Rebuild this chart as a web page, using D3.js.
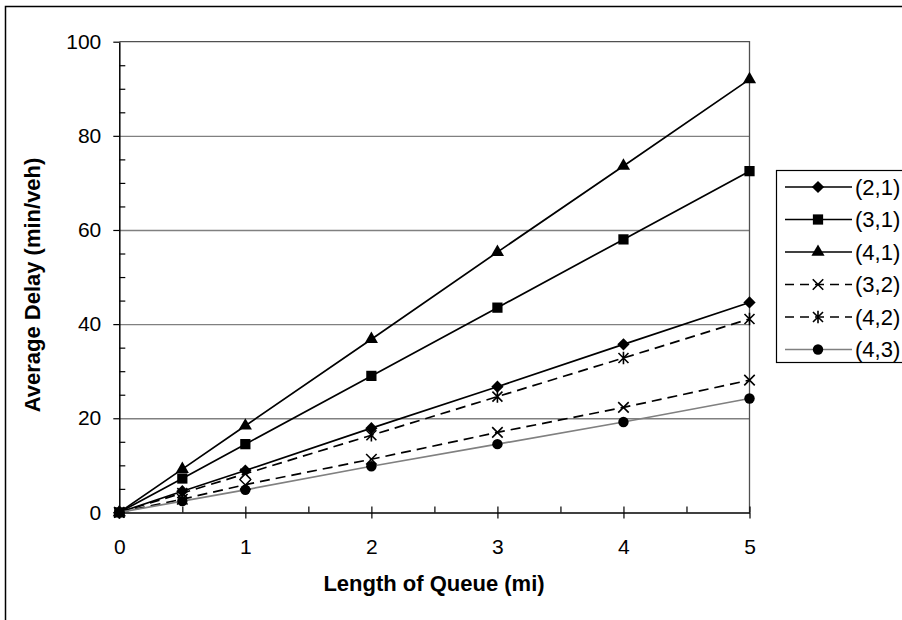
<!DOCTYPE html>
<html>
<head>
<meta charset="utf-8">
<script src="https://cdn.jsdelivr.net/npm/d3@7"></script>
<style>
  html, body { margin: 0; padding: 0; background: #fff; }
  svg { display: block; font-family: "Liberation Sans", Arial, sans-serif; }
</style>
</head>
<body>
<svg id="chart" width="902" height="620"></svg>
<script>
// ---- data ----
const xValues = [0, 0.5, 1, 2, 3, 4, 5];
const seriesNames = ["(2,1)", "(3,1)", "(4,1)", "(3,2)", "(4,2)", "(4,3)"];
const s21 = [0, 4.5, 8.9, 17.9, 26.7, 35.7, 44.6];
const s31 = [0, 7.2, 14.5, 29.0, 43.5, 58.0, 72.5];
const s41 = [0, 9.2, 18.4, 36.8, 55.3, 73.6, 92.0];
const s32 = [0, 2.8, 5.9, 11.3, 17.0, 22.3, 28.1];
const s42 = [0, 4.1, 8.2, 16.4, 24.6, 32.8, 41.1];
const s43 = [0, 2.4, 4.8, 9.8, 14.5, 19.2, 24.2];
// stray open-diamond marker visible near x = 1
const openDiamondX = [1];
const openDiamondY = [7.0];
const yMajorTicks = [0, 20, 40, 60, 80, 100];
const xMajorTicks = [0, 1, 2, 3, 4, 5];
const xTitle = "Length of Queue (mi)";
const yTitle = "Average Delay (min/veh)";

// ---- layout ----
const svg = d3.select("#chart");
const pL = 119.3, pR = 749.5, pT = 41.7, pB = 512.4;
const x = d3.scaleLinear().domain([0, 5]).range([pL, pR]);
const y = d3.scaleLinear().domain([0, 100]).range([pB, pT]);
const FONT = "Liberation Sans, Arial, sans-serif";

// outer chart frame (right/bottom edges lie outside the picture)
svg.append("rect").attr("x", 5.5).attr("y", 6.5).attr("width", 960).attr("height", 700)
  .attr("fill", "none").attr("stroke", "#000").attr("stroke-width", 1.5);

// gridlines
svg.append("g").attr("transform", `translate(${pL},0)`)
  .call(d3.axisLeft(y).tickValues([20, 40, 60, 80]).tickSize(-(pR - pL)).tickFormat(""))
  .call(g => g.select(".domain").remove())
  .selectAll("line").attr("stroke", "#808080").attr("stroke-width", 1.3);

// plot area border (top, right)
svg.append("path")
  .attr("d", `M${pL},${pT}H${pR}V${pB}`)
  .attr("fill", "none").attr("stroke", "#505050").attr("stroke-width", 1.3);

// y axis
const minorY = d3.range(5, 100, 5).filter(v => v % 20 !== 0);
svg.append("g").attr("transform", `translate(${pL},0)`)
  .call(d3.axisRight(y).tickValues(minorY).tickSize(6).tickFormat(""))
  .call(g => g.select(".domain").remove())
  .selectAll("line").attr("stroke", "#000").attr("stroke-width", 1.2);
const yAxis = svg.append("g").attr("transform", `translate(${pL},0)`)
  .call(d3.axisLeft(y).tickValues(yMajorTicks).tickSize(6).tickSizeOuter(0).tickPadding(12)
    .tickFormat(d3.format("d")));
yAxis.select(".domain").attr("stroke", "#000").attr("stroke-width", 1.5);
yAxis.selectAll("line").attr("stroke", "#000").attr("stroke-width", 1.2);
yAxis.selectAll("text").attr("font-size", 21).attr("fill", "#000").attr("font-family", FONT);

// x axis
const minorX = [0.5, 1.5, 2.5, 3.5, 4.5];
svg.append("g").attr("transform", `translate(0,${pB})`)
  .call(d3.axisTop(x).tickValues(minorX.concat(xMajorTicks)).tickSize(6).tickFormat(""))
  .call(g => g.select(".domain").remove())
  .selectAll("line").attr("stroke", "#000").attr("stroke-width", 1.2);
const xAxis = svg.append("g").attr("transform", `translate(0,${pB})`)
  .call(d3.axisBottom(x).tickValues(xMajorTicks).tickSize(6).tickSizeOuter(0).tickPadding(21)
    .tickFormat(d3.format("d")));
xAxis.select(".domain").attr("stroke", "#000").attr("stroke-width", 1.5);
xAxis.selectAll("line").attr("stroke", "#000").attr("stroke-width", 1.2);
xAxis.selectAll("text").attr("font-size", 21).attr("fill", "#000").attr("font-family", FONT);

// titles
svg.append("text").attr("x", 434).attr("y", 591).attr("text-anchor", "middle")
  .attr("font-size", 22).attr("font-weight", "bold").attr("fill", "#000").text(xTitle);
svg.append("text").attr("transform", "translate(40,285) rotate(-90)").attr("text-anchor", "middle")
  .attr("font-size", 22).attr("font-weight", "bold").attr("fill", "#000").text(yTitle);

// symbols
const symDiamond = { draw(ctx, size) { const r = Math.sqrt(size) / 2;
  ctx.moveTo(0, -r); ctx.lineTo(r, 0); ctx.lineTo(0, r); ctx.lineTo(-r, 0); ctx.closePath(); } };
const symX = { draw(ctx, size) { const r = Math.sqrt(size) / 2;
  ctx.moveTo(-r, -r); ctx.lineTo(r, r); ctx.moveTo(r, -r); ctx.lineTo(-r, r); } };
const symAst = { draw(ctx, size) { const r = Math.sqrt(size) / 2;
  ctx.moveTo(-r, -r); ctx.lineTo(r, r); ctx.moveTo(r, -r); ctx.lineTo(-r, r);
  ctx.moveTo(0, -r * 1.25); ctx.lineTo(0, r * 1.25); } };

const series = [
  { name: seriesNames[0], values: s21, color: "#000", dash: null, sym: symDiamond, size: 150, fill: true },
  { name: seriesNames[1], values: s31, color: "#000", dash: null, sym: d3.symbolSquare, size: 105, fill: true },
  { name: seriesNames[2], values: s41, color: "#000", dash: null, sym: d3.symbolTriangle, size: 75, fill: true },
  { name: seriesNames[3], values: s32, color: "#000", dash: "10,6", sym: symX, size: 110, fill: false },
  { name: seriesNames[4], values: s42, color: "#000", dash: "10,6", sym: symAst, size: 100, fill: false },
  { name: seriesNames[5], values: s43, color: "#808080", dash: null, sym: d3.symbolCircle, size: 85, fill: true, markColor: "#000" }
];

const line = d3.line().x((d, i) => x(xValues[i])).y(d => y(d));
const plot = svg.append("g");
series.forEach(s => {
  plot.append("path").attr("d", line(s.values)).attr("fill", "none")
    .attr("stroke", s.color).attr("stroke-width", 1.7)
    .attr("stroke-dasharray", s.dash);
});
series.forEach(s => {
  const mc = s.markColor || s.color;
  plot.selectAll(null).data(s.values).enter().append("path")
    .attr("transform", (d, i) => `translate(${x(xValues[i])},${y(d)})`)
    .attr("d", d3.symbol().type(s.sym).size(s.size))
    .attr("fill", s.fill ? mc : "none")
    .attr("stroke", mc).attr("stroke-width", s.fill ? 0 : 1.6);
});
plot.selectAll(null).data(openDiamondY).enter().append("path")
  .attr("transform", (d, i) => `translate(${x(openDiamondX[i])},${y(d)})`)
  .attr("d", d3.symbol().type(symDiamond).size(120))
  .attr("fill", "#fff").attr("stroke", "#000").attr("stroke-width", 1.3);

// legend
const lg = svg.append("g").attr("transform", "translate(776,170)");
lg.append("rect").attr("x", 0.5).attr("y", 0.5).attr("width", 200).attr("height", 192)
  .attr("fill", "#fff").attr("stroke", "#000").attr("stroke-width", 1.2);
series.forEach((s, i) => {
  const yy = 17 + i * 32.5;
  lg.append("line").attr("x1", 9).attr("x2", 76).attr("y1", yy).attr("y2", yy)
    .attr("stroke", s.color).attr("stroke-width", 1.7).attr("stroke-dasharray", s.dash ? "9,6" : null);
  const mc = s.markColor || s.color;
  lg.append("path").attr("transform", `translate(42,${yy})`)
    .attr("d", d3.symbol().type(s.sym).size(s.size))
    .attr("fill", s.fill ? mc : "none").attr("stroke", mc).attr("stroke-width", s.fill ? 0 : 1.6);
  lg.append("text").attr("x", 79).attr("y", yy).attr("dy", "0.36em")
    .attr("font-size", 22).attr("fill", "#000").attr("font-family", FONT).text(s.name);
});
</script>
</body>
</html>
